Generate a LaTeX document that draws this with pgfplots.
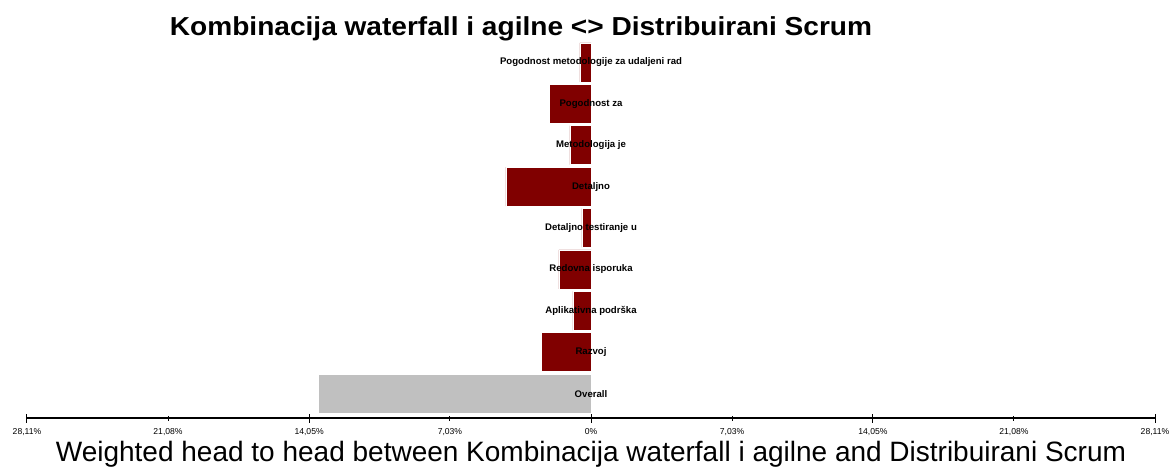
\documentclass[border=0pt]{standalone}
\usepackage{pgfplots}
\pgfplotsset{compat=1.18}
\usepackage{fontspec}
\setmainfont{Liberation Sans}
\definecolor{barred}{HTML}{800000}
\definecolor{bargray}{HTML}{C0C0C0}
\begin{document}
\begin{tikzpicture}[x=1pt,y=1pt]
\useasboundingbox (0,0) rectangle (1174,467);
\begin{axis}[
  at={(27pt,49pt)}, anchor=south west,
  scale only axis, width=1128pt, height=376.4pt,
  xmin=-28.11, xmax=28.11, ymin=-0.59, ymax=8.5,
  axis x line*=bottom, axis y line=none,
  axis line style={line width=1.4pt},
  xtick={-28.11,-14.05,0,14.05,28.11},
  xticklabels={{28,11\%},{14,05\%},{0\%},{14,05\%},{28,11\%}},
  extra x ticks={-21.08,-7.03,7.03,21.08},
  extra x tick labels={{21,08\%},{7,03\%},{7,03\%},{21,08\%}},
  extra x tick style={major tick length=5pt, xticklabel style={yshift=-2pt}},
  major tick length=9pt,
  tick align=center,
  tick style={black, line width=1pt},
  xticklabel style={font=\fontsize{8.6}{10}\selectfont, yshift=-2pt},
  clip=false,
]
\addplot[xbar, bar shift=0pt, bar width=39pt, fill=barred, draw=white, line width=0.5pt]
  coordinates {(-0.55,8) (-2.09,7) (-1.05,6) (-4.24,5) (-0.45,4) (-1.60,3) (-0.90,2) (-2.49,1)};
\addplot[xbar, bar shift=0pt, bar width=39pt, fill=bargray, draw=white, line width=0.5pt]
  coordinates {(-13.60,0)};
\addplot[draw=none, mark=none, nodes near coords, point meta=explicit symbolic,
  every node near coord/.style={anchor=center, inner sep=0pt, font=\bfseries\fontsize{9.6}{11}\selectfont}]
  coordinates {
    (0,8) [Pogodnost metodologije za udaljeni rad]
    (0,7) [Pogodnost za]
    (0,6) [Metodologija je]
    (0,5) [Detaljno]
    (0,4) [Detaljno testiranje u]
    (0,3) [Redovna isporuka]
    (0,2) [Aplikativna podrška]
    (0,1) [Razvoj]
    (0,0) [Overall]
  };
\end{axis}
\node[font=\bfseries\fontsize{26}{30}\selectfont, inner sep=0pt, xscale=1.08] at (521,438) {Kombinacija waterfall i agilne <> Distribuirani Scrum};
\node[font=\fontsize{28}{32}\selectfont, inner sep=0pt] at (591,12.5) {Weighted head to head between Kombinacija waterfall i agilne and Distribuirani Scrum};
\end{tikzpicture}
\end{document}
